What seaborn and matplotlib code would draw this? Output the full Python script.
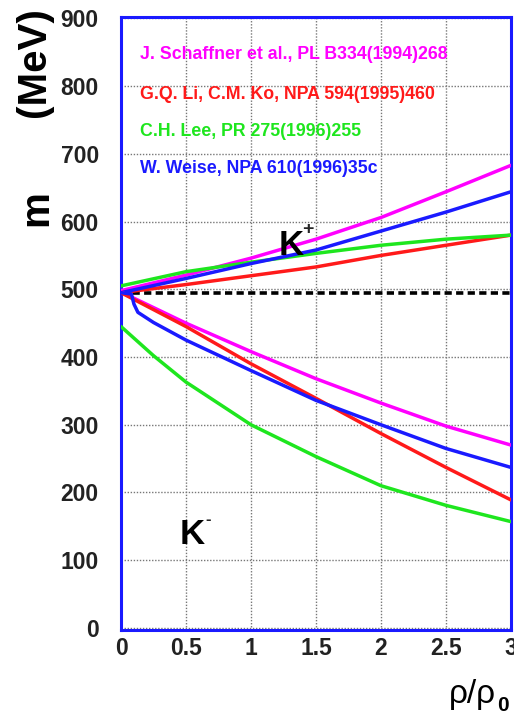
import matplotlib
matplotlib.use("Agg")
import matplotlib.pyplot as plt
import seaborn as sns
import numpy as np
import pandas as pd
from matplotlib.ticker import MultipleLocator

# ---------------- data ----------------
x_std = [0.0, 0.5, 1.0, 1.5, 2.0, 2.5, 3.0]

# K+ branch
kp_schaffner = [498, 521, 546, 574, 606, 644, 683]
kp_li        = [495, 507, 520, 533, 550, 565, 580]
kp_lee       = [505, 526, 540, 553, 565, 574, 580]
kp_weise     = [495, 516, 538, 558, 586, 614, 644]

# K- branch
km_schaffner = [496, 450, 408, 368, 332, 298, 270]
km_li        = [495, 445, 390, 339, 287, 237, 189]
x_lee_m      = [0.0, 0.25, 0.5, 1.0, 1.5, 2.0, 2.5, 3.0]
km_lee       = [445, 402, 363, 300, 253, 210, 181, 157]
x_weise_m    = [0.0, 0.08, 0.10, 0.13, 0.25, 0.5, 1.0, 1.5, 2.0, 2.5, 3.0]
km_weise     = [495, 493, 478, 466, 451, 425, 380, 336, 300, 265, 237]

kaon_mass = 495

labels = ["J. Schaffner et al., PL B334(1994)268",
          "G.Q. Li, C.M. Ko, NPA 594(1995)460",
          "C.H. Lee, PR 275(1996)255",
          "W. Weise, NPA 610(1996)35c"]
colors = ["#ff00ff", "#ff1a1a", "#1ee61e", "#1a1aff"]

x_ticks = [0, 0.5, 1, 1.5, 2, 2.5, 3]
x_ticklabels = ["0", "0.5", "1", "1.5", "2", "2.5", "3"]
y_ticks = [0, 100, 200, 300, 400, 500, 600, 700, 800, 900]

# ---------------- style ----------------
sns.set_style("white")
plt.rcParams["font.family"] = ["Liberation Sans", "DejaVu Sans"]

W, H = 514, 717
fig = plt.figure(figsize=(W / 100, H / 100), dpi=100)
ax = fig.add_axes([121 / W, 1 - 630 / H, 390 / W, 613 / H])

lw = 2.5
series = [
    (x_std, kp_schaffner, colors[0]), (x_std, kp_li, colors[1]),
    (x_std, kp_lee, colors[2]), (x_std, kp_weise, colors[3]),
    (x_std, km_schaffner, colors[0]), (x_std, km_li, colors[1]),
    (x_lee_m, km_lee, colors[2]), (x_weise_m, km_weise, colors[3]),
]

# dashed kaon mass line
sns.lineplot(x=[0, 3], y=[kaon_mass, kaon_mass], color="black", lw=2.6,
             linestyle=(0, (2.0, 1.2)), ax=ax, zorder=3)

for xs, ys, c in series:
    df = pd.DataFrame({"x": xs, "y": ys})
    sns.lineplot(data=df, x="x", y="y", color=c, lw=lw, ax=ax, zorder=4)

ax.set_xlim(0, 3)
ax.set_ylim(-3, 902)
ax.set_xlabel("")
ax.set_ylabel("")

ax.set_xticks(x_ticks)
ax.set_xticklabels(x_ticklabels)
ax.set_yticks(y_ticks)
ax.xaxis.set_minor_locator(MultipleLocator(0.25))
ax.yaxis.set_minor_locator(MultipleLocator(50))
ax.tick_params(axis="both", which="major", direction="in", length=6, width=1.2,
               color="#333333", labelsize=16.5, labelcolor="#222222")
ax.tick_params(axis="y", which="major", pad=16)
ax.tick_params(axis="x", which="major", pad=5)
ax.tick_params(axis="both", which="minor", direction="in", length=4, width=1.2,
               color="#333333")
ax.tick_params(axis="x", which="both", top=False)
ax.tick_params(axis="y", which="both", right=False)
for lab in ax.get_xticklabels() + ax.get_yticklabels():
    lab.set_fontweight("bold")

ax.grid(True, which="major", color="#777777", linestyle=(0, (1, 1.2)), lw=1.0)

for sp in ax.spines.values():
    sp.set_color("#1a1aff")
    sp.set_linewidth(2.2)
    sp.set_visible(True)

# legend-like coloured texts
ys_txt = [846, 788, 733, 678]
for lab, c, yt in zip(labels, colors, ys_txt):
    ax.text(0.146, yt, lab, color=c, fontsize=12.8, fontweight="bold",
            ha="left", va="center")

# K+ / K- labels
ax.text(1.31, 564, "K", fontsize=25, fontweight="bold", ha="center",
        va="center", color="black", zorder=6)
ax.annotate("+", xy=(1.31, 564), xytext=(12, 12), textcoords="offset points",
            fontsize=14, fontweight="bold", ha="center", va="center")
ax.text(0.55, 138, "K", fontsize=25, fontweight="bold", ha="center",
        va="center", color="black")
ax.annotate("-", xy=(0.55, 138), xytext=(11, 11), textcoords="offset points",
            fontsize=12, fontweight="bold", ha="center", va="center")

# axis titles
fig.text(36 / W, 1 - 208 / H, "m", rotation=90, fontsize=29,
         fontweight="bold", ha="center", va="center", color="black")
fig.text(34 / W, 1 - 62 / H, "(MeV)", rotation=90, fontsize=29,
         fontweight="bold", ha="center", va="center", color="black")
fig.text(449 / W, 1 - 703 / H, "ρ/ρ", fontsize=24, ha="left",
         va="baseline", color="black")
fig.text(497 / W, 1 - 711 / H, "0", fontsize=15, fontweight="bold",
         ha="left", va="baseline", color="black")

fig.savefig("out.png", dpi=100)
